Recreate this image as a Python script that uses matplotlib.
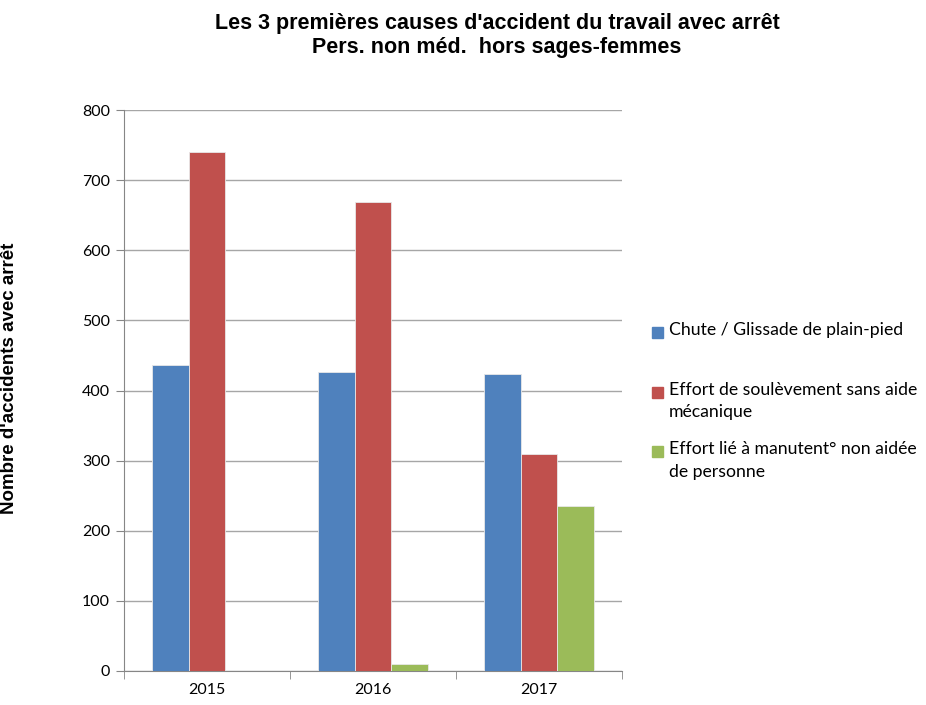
import matplotlib
matplotlib.use("Agg")
import matplotlib.pyplot as plt
from matplotlib.patches import Rectangle
import numpy as np

years = ["2015", "2016", "2017"]
series_names = [
    "Chute / Glissade de plain-pied",
    "Effort de soulèvement sans aide\nmécanique",
    "Effort lié à manutent° non aidée\nde personne",
]
chute = [436, 426, 423]
soulevement = [740, 669, 310]
manutention = [0, 10, 236]
yticks = [0, 100, 200, 300, 400, 500, 600, 700, 800]
colors = ["#4F81BD", "#C0504D", "#9BBB59"]

W, H = 926, 705
fig = plt.figure(figsize=(W / 100, H / 100), dpi=100)
ax = fig.add_axes([124 / W, 1 - 671 / H, (622 - 124) / W, (671 - 110) / H])

x = np.arange(len(years))
bw = 0.22
for i, vals in enumerate([chute, soulevement, manutention]):
    ax.bar(x + (i - 1) * bw, vals, width=bw, color=colors[i],
           edgecolor="#E8E8E8", linewidth=0.6, zorder=3)

ax.set_xlim(-0.5, 2.5)
ax.set_ylim(0, 800)
ax.set_yticks(yticks)
ax.set_yticklabels([str(v) for v in yticks], fontsize=11.5, family="Lato")
ax.yaxis.grid(True, color="#A6A6A6", linewidth=1.0, zorder=0)
ax.set_axisbelow(True)

ax.set_xticks(x)
ax.set_xticklabels(years, fontsize=11.5, family="Lato")
ax.tick_params(axis="x", length=0, pad=9)
ax.set_xticks([-0.5, 0.5, 1.5, 2.5], minor=True)
ax.tick_params(axis="x", which="minor", length=6, color="#868686", direction="out")
ax.tick_params(axis="y", length=6, color="#868686", direction="out", pad=4)

for s in ["top", "right"]:
    ax.spines[s].set_visible(False)
ax.spines["left"].set_color("#868686")
ax.spines["bottom"].set_color("#868686")

ax.set_ylabel("Nombre d'accidents avec arrêt", fontsize=13.5, fontweight="bold",
              family="Liberation Sans", labelpad=0)
ax.yaxis.set_label_coords((18 - 124) / (622 - 124), (671 - 378) / (671 - 110))

fig.text(497 / W, 1 - 23 / H, "Les 3 premières causes d'accident du travail avec arrêt",
         ha="center", va="center", fontsize=15.5, fontweight="bold", family="Liberation Sans")
fig.text(497 / W, 1 - 48 / H, "Pers. non méd.  hors sages-femmes",
         ha="center", va="center", fontsize=15.5, fontweight="bold", family="Liberation Sans")

# legend
leg_y = [332, 392, 451]
for i, name in enumerate(series_names):
    fig.patches.append(Rectangle((652 / W, 1 - (leg_y[i] + 6) / H), 11 / W, 11 / H,
                                 transform=fig.transFigure, color=colors[i]))
    fig.text(669 / W, 1 - (leg_y[i] - 10) / H, name, ha="left", va="top",
             fontsize=12.7, family="Lato", linespacing=1.5)

fig.savefig("out.png", dpi=100)
